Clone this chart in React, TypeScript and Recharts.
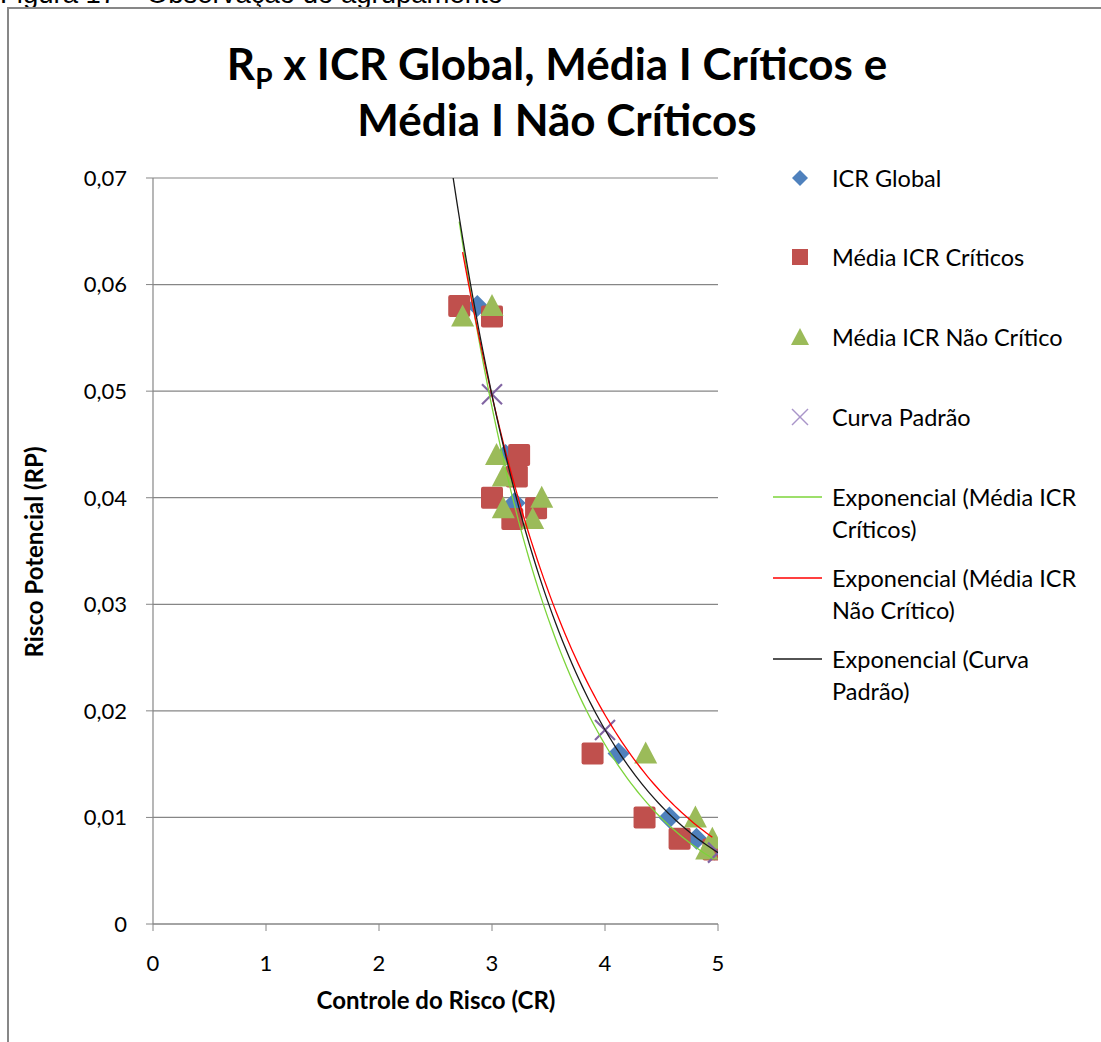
import {
  ScatterChart,
  Scatter,
  XAxis,
  YAxis,
  CartesianGrid,
  Legend,
} from "recharts";

type Pt = { x: number; y: number };

// Values.
const ICR_GLOBAL: Pt[] = [
  { x: 2.87, y: 0.058 },
  { x: 3.12, y: 0.044 },
  { x: 3.2, y: 0.0395 },
  { x: 4.12, y: 0.016 },
  { x: 4.57, y: 0.01 },
  { x: 4.81, y: 0.008 },
  { x: 4.97, y: 0.007 },
];

const MEDIA_CRITICOS: Pt[] = [
  { x: 2.71, y: 0.058 },
  { x: 3.0, y: 0.057 },
  { x: 3.24, y: 0.044 },
  { x: 3.22, y: 0.042 },
  { x: 3.0, y: 0.04 },
  { x: 3.18, y: 0.038 },
  { x: 3.39, y: 0.039 },
  { x: 3.89, y: 0.016 },
  { x: 4.35, y: 0.01 },
  { x: 4.66, y: 0.008 },
  { x: 4.96, y: 0.007 },
];

const MEDIA_NAO_CRITICO: Pt[] = [
  { x: 2.74, y: 0.057 },
  { x: 3.0, y: 0.058 },
  { x: 3.04, y: 0.044 },
  { x: 3.1, y: 0.042 },
  { x: 3.1, y: 0.039 },
  { x: 3.44, y: 0.04 },
  { x: 3.36, y: 0.038 },
  { x: 4.36, y: 0.016 },
  { x: 4.8, y: 0.01 },
  { x: 4.95, y: 0.008 },
  { x: 4.9, y: 0.007 },
];

// first point sits above the axis maximum, so only its trendline shows
const CURVA_PADRAO: Pt[] = [
  { x: 2, y: 0.135 },
  { x: 3, y: 0.0497 },
  { x: 4, y: 0.0182 },
  { x: 5, y: 0.0067 },
];

const X_TICKS = [0, 1, 2, 3, 4, 5];
const Y_TICKS = [0, 0.01, 0.02, 0.03, 0.04, 0.05, 0.06, 0.07];
const Y_MAX = 0.07;

const BLUE = "#4F81BD";
const RED = "#C0504D";
const GREEN = "#9BBB59";
const PURPLE = "#8064A2";
const GRID = "#868686";
const FONT = "Lato, 'Open Sans', sans-serif";

// Excel-style exponential trendline: least squares of ln(y) on x.
function expTrend(pts: Pt[], steps = 80): Pt[] {
  const n = pts.length;
  const mx = pts.reduce((s, p) => s + p.x, 0) / n;
  const my = pts.reduce((s, p) => s + Math.log(p.y), 0) / n;
  let sxy = 0;
  let sxx = 0;
  for (const p of pts) {
    sxy += (p.x - mx) * (Math.log(p.y) - my);
    sxx += (p.x - mx) * (p.x - mx);
  }
  const b = sxy / sxx;
  const lnA = my - b * mx;
  const xs = pts.map((p) => p.x);
  let x0 = Math.min(...xs);
  const x1 = Math.max(...xs);
  // clip at the top of the plot
  const xTop = (Math.log(Y_MAX) - lnA) / b;
  if (xTop > x0) x0 = xTop;
  const out: Pt[] = [];
  for (let i = 0; i <= steps; i++) {
    const x = x0 + ((x1 - x0) * i) / steps;
    out.push({ x, y: Math.exp(lnA + b * x) });
  }
  return out;
}

const TREND_CRITICOS = expTrend(MEDIA_CRITICOS);
const TREND_NAO_CRITICO = expTrend(MEDIA_NAO_CRITICO);
const TREND_PADRAO = expTrend(CURVA_PADRAO);

const fmtY = (v: number) => (v === 0 ? "0" : v.toFixed(2).replace(".", ","));

function Diamond(props: any) {
  const { cx, cy } = props;
  const r = 11;
  return (
    <path
      d={`M${cx},${cy - r}L${cx + r},${cy}L${cx},${cy + r}L${cx - r},${cy}Z`}
      fill={BLUE}
    />
  );
}

function Square(props: any) {
  const { cx, cy } = props;
  return <rect x={cx - 11} y={cy - 11} width={22} height={22} rx={2} fill={RED} />;
}

function Triangle(props: any) {
  const { cx, cy } = props;
  return (
    <path
      d={`M${cx},${cy - 12}L${cx + 11.5},${cy + 10}L${cx - 11.5},${cy + 10}Z`}
      fill={GREEN}
    />
  );
}

function Cross(props: any) {
  const { cx, cy } = props;
  const r = 10;
  return (
    <g stroke={PURPLE} strokeWidth={2.2}>
      <line x1={cx - r} y1={cy - r} x2={cx + r} y2={cy + r} />
      <line x1={cx - r} y1={cy + r} x2={cx + r} y2={cy - r} />
    </g>
  );
}

const NoDot = () => <g />;

const legendText: React.CSSProperties = {
  fontFamily: FONT,
  fontSize: 23.5,
  color: "#000",
  lineHeight: "32px",
};

function LegendBox() {
  const markerRow = (icon: React.ReactNode, label: string, top: number) => (
    <div style={{ position: "absolute", left: 0, top: top - 16, height: 32 }}>
      <svg width={50} height={32} style={{ position: "absolute", left: 0, top: 0 }}>
        {icon}
      </svg>
      <span style={{ ...legendText, position: "absolute", left: 59, whiteSpace: "nowrap" }}>
        {label}
      </span>
    </div>
  );
  const lineRow = (color: string, l1: string, l2: string, top: number) => (
    <div style={{ position: "absolute", left: 0, top: top - 16 }}>
      <svg width={50} height={32} style={{ position: "absolute", left: 0, top: 0 }}>
        <line x1={0} y1={16} x2={49} y2={16} stroke={color} strokeWidth={1.3} />
      </svg>
      <div style={{ ...legendText, position: "absolute", left: 59, whiteSpace: "nowrap" }}>
        {l1}
        <br />
        {l2}
      </div>
    </div>
  );
  return (
    <div style={{ position: "relative", width: 320, height: 560 }}>
      {markerRow(<path d="M27,8L35,16L27,24L19,16Z" fill={BLUE} />, "ICR Global", 18)}
      {markerRow(<rect x={19} y={8} width={16} height={16} fill={RED} />, "Média ICR Críticos", 97)}
      {markerRow(<path d="M27,7L36,24L18,24Z" fill={GREEN} />, "Média ICR Não Crítico", 177)}
      {markerRow(
        <g stroke="#A995C9" strokeWidth={1.5}>
          <line x1={19} y1={8} x2={35} y2={24} />
          <line x1={19} y1={24} x2={35} y2={8} />
        </g>,
        "Curva Padrão",
        257
      )}
      {lineRow("#7CD43A", "Exponencial (Média ICR", "Críticos)", 337)}
      {lineRow("#FF0000", "Exponencial (Média ICR", "Não Crítico)", 418)}
      {lineRow("#1A1A1A", "Exponencial (Curva", "Padrão)", 499)}
    </div>
  );
}

export default function App() {
  return (
    <div
      style={{
        position: "absolute",
        left: 0,
        top: 0,
        width: 1101,
        height: 1042,
        overflow: "hidden",
        background: "#fff",
      }}
    >
      {/* caption of the document, cut off by the crop */}
      <div
        style={{
          position: "absolute",
          left: 0,
          top: -21,
          fontFamily: "'Liberation Sans', Arial, sans-serif",
          fontSize: 27.5,
          lineHeight: "30px",
          whiteSpace: "nowrap",
          color: "#000",
        }}
      >
        Figura 17 – Observação do agrupamento
      </div>
      {/* chart frame */}
      <div
        style={{
          position: "absolute",
          left: 7,
          top: 7,
          width: 1200,
          height: 1200,
          border: "2px solid #878787",
          boxSizing: "border-box",
        }}
      />
      <div
        style={{
          position: "absolute",
          left: 557 - 400,
          width: 800,
          top: 35,
          textAlign: "center",
          fontFamily: FONT,
          fontWeight: 700,
          fontSize: 44,
          lineHeight: "56px",
          color: "#000",
        }}
      >
        R<sub style={{ fontSize: 28, verticalAlign: "-9px", lineHeight: 0 }}>P</sub> x ICR
        Global, Média I Críticos e
        <br />
        Média I Não Críticos
      </div>
      <div
        style={{
          position: "absolute",
          left: 436 - 200,
          width: 400,
          top: 985,
          textAlign: "center",
          fontFamily: FONT,
          fontWeight: 700,
          fontSize: 24,
          lineHeight: "30px",
          color: "#000",
        }}
      >
        Controle do Risco (CR)
      </div>
      <div
        style={{
          position: "absolute",
          left: 34 - 150,
          top: 552 - 15,
          width: 300,
          height: 30,
          lineHeight: "30px",
          textAlign: "center",
          transform: "rotate(-90deg)",
          fontFamily: FONT,
          fontWeight: 700,
          fontSize: 24,
          color: "#000",
        }}
      >
        Risco Potencial (RP)
      </div>
      <div style={{ position: "absolute", left: 0, top: 0 }}>
        <ScatterChart
          width={1101}
          height={1042}
          margin={{ top: 178, right: 383, bottom: 78, left: 93 }}
        >
          <CartesianGrid vertical={false} stroke={GRID} strokeWidth={1.2} />
          <XAxis
            type="number"
            dataKey="x"
            domain={[0, 5]}
            ticks={X_TICKS}
            height={40}
            axisLine={{ stroke: GRID, strokeWidth: 1.2 }}
            tickLine={{ stroke: GRID }}
            tickSize={7}
            tickMargin={24}
            tick={{ fill: "#000", fontSize: 22, fontFamily: FONT }}
            allowDataOverflow
          />
          <YAxis
            type="number"
            dataKey="y"
            domain={[0, Y_MAX]}
            ticks={Y_TICKS}
            width={60}
            tickFormatter={fmtY}
            axisLine={{ stroke: GRID, strokeWidth: 1.2 }}
            tickLine={{ stroke: GRID }}
            tickSize={7}
            tickMargin={19}
            tick={{ fill: "#000", fontSize: 22, fontFamily: FONT }}
            allowDataOverflow
          />
          <Legend
            layout="vertical"
            align="center"
            verticalAlign="middle"
            content={() => <LegendBox />}
            wrapperStyle={{ position: "absolute", left: 773, top: 160, width: 320 }}
          />
          <Scatter name="ICR Global" data={ICR_GLOBAL} shape={Diamond} isAnimationActive={false} />
          <Scatter
            name="Média ICR Críticos"
            data={MEDIA_CRITICOS}
            shape={Square}
            isAnimationActive={false}
          />
          <Scatter
            name="Média ICR Não Crítico"
            data={MEDIA_NAO_CRITICO}
            shape={Triangle}
            isAnimationActive={false}
          />
          <Scatter
            name="Curva Padrão"
            data={CURVA_PADRAO.filter((p) => p.y <= Y_MAX)}
            shape={Cross}
            isAnimationActive={false}
          />
          <Scatter
            name="Exponencial (Média ICR Críticos)"
            data={TREND_CRITICOS}
            line={{ stroke: "#7CD43A", strokeWidth: 1.3 }}
            shape={NoDot}
            isAnimationActive={false}
          />
          <Scatter
            name="Exponencial (Média ICR Não Crítico)"
            data={TREND_NAO_CRITICO}
            line={{ stroke: "#FF0000", strokeWidth: 1.3 }}
            shape={NoDot}
            isAnimationActive={false}
          />
          <Scatter
            name="Exponencial (Curva Padrão)"
            data={TREND_PADRAO}
            line={{ stroke: "#1A1A1A", strokeWidth: 1.3 }}
            shape={NoDot}
            isAnimationActive={false}
          />
        </ScatterChart>
      </div>
    </div>
  );
}
